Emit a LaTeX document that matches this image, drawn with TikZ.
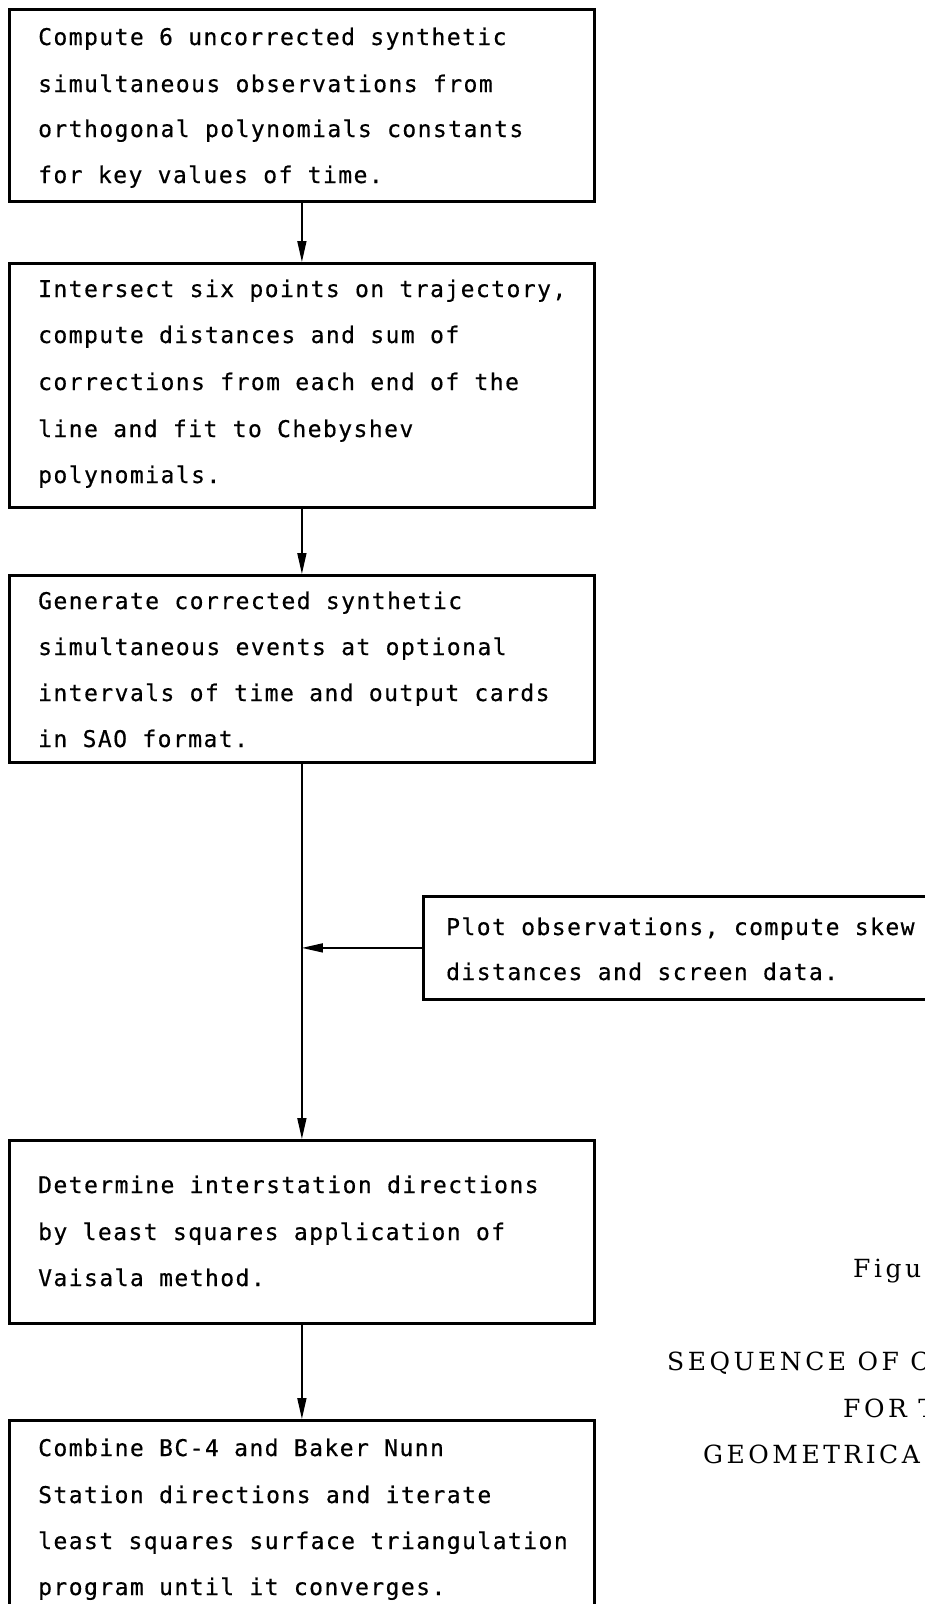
\documentclass[tikz,border=0pt]{standalone}
\usepackage{fontspec}
\newfontfamily\boxfont[LetterSpace=6.3,FakeBold=0.5]{DejaVu Sans Mono}
\newfontfamily\capfont[LetterSpace=14]{DejaVu Serif}
\usetikzlibrary{arrows.meta}
\begin{document}
\begin{tikzpicture}[x=1pt,y=-1pt,
  box/.style={draw, line width=2.8pt, inner sep=0pt, anchor=north west},
  txt/.style={anchor=base west, inner sep=0pt, font=\boxfont\fontsize{23}{23}\selectfont},
  captxt/.style={anchor=base west, inner sep=0pt, font=\capfont\fontsize{25}{25}\selectfont},
  conn/.style={line width=1.6pt, -{Triangle[length=21pt,width=9pt]}}]
\useasboundingbox (0,0) rectangle (925,1604);
% boxes
\node[box, minimum width=585pt, minimum height=192pt] (b1) at (8,8) {};
\node[box, minimum width=585pt, minimum height=244pt] (b2) at (8,262) {};
\node[box, minimum width=585pt, minimum height=187pt] (b3) at (8,574) {};
\node[box, minimum width=540pt, minimum height=103pt] (p) at (422,895) {};
\node[box, minimum width=585pt, minimum height=183pt] (b4) at (8,1139) {};
\node[box, minimum width=585pt, minimum height=200pt] (b5) at (8,1419) {};
% texts
\node[txt] (t11) at (38,45) {Compute 6 uncorrected synthetic};
\node[txt] (t12) at (38,92) {simultaneous observations from};
\node[txt] (t13) at (38,137) {orthogonal polynomials constants};
\node[txt] (t14) at (38,183) {for key values of time.};
\node[txt] (t21) at (38,297) {Intersect six points on trajectory,};
\node[txt] (t22) at (38,343) {compute distances and sum of};
\node[txt] (t23) at (38,390) {corrections from each end of the};
\node[txt] (t24) at (38,437) {line and fit to Chebyshev};
\node[txt] (t25) at (38,483) {polynomials.};
\node[txt] (t31) at (38,609) {Generate corrected synthetic};
\node[txt] (t32) at (38,655) {simultaneous events at optional};
\node[txt] (t33) at (38,701) {intervals of time and output cards};
\node[txt] (t34) at (38,747) {in SAO format.};
\node[txt] (tp1) at (446,935) {Plot observations, compute skew};
\node[txt] (tp2) at (446,980) {distances and screen data.};
\node[txt] (t41) at (38,1193) {Determine interstation directions};
\node[txt] (t42) at (38,1240) {by least squares application of};
\node[txt] (t43) at (38,1286) {Vaisala method.};
\node[txt] (t51) at (38,1456) {Combine BC-4 and Baker Nunn};
\node[txt] (t52) at (38,1503) {Station directions and iterate};
\node[txt] (t53) at (38,1549) {least squares surface triangulation};
\node[txt] (t54) at (38,1595) {program until it converges.};
% caption
\node[captxt] (c1) at (853,1277) {Figur};
\node[captxt] (c2) at (667,1370) {SEQUENCE OF C};
\node[captxt] (c3) at (843,1417) {FOR T};
\node[captxt] (c4) at (703,1463) {GEOMETRICA};
% connectors
\draw[conn] (b1.south) -- (b2.north);
\draw[conn] (b2.south) -- (b3.north);
\draw[conn] (b3.south) -- (b4.north);
\draw[conn] (p.west) -- (p.west -| b3.south);
\draw[conn] (b4.south) -- (b5.north);
\end{tikzpicture}
\end{document}
